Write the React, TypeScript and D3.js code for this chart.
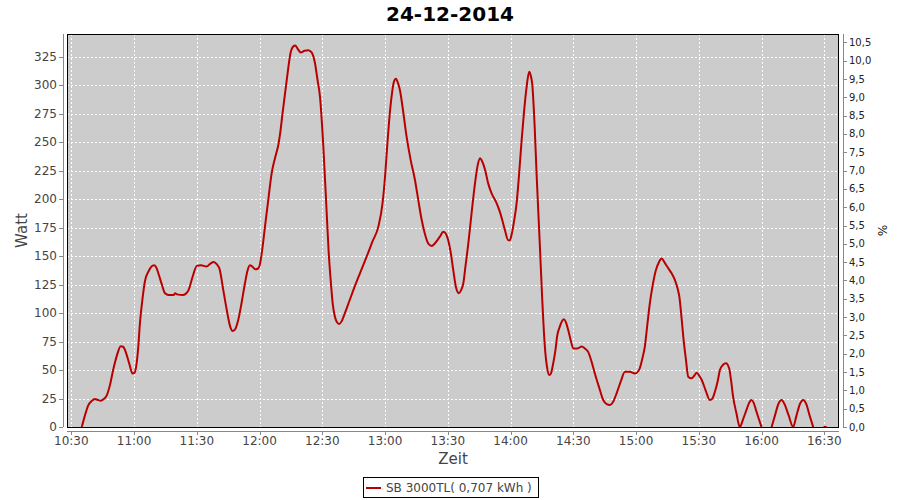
import React from "react";
import * as d3 from "d3";

// ---- data (minutes after 10:30, watts; null = no data) ----
const START_TIME = "10:30";
const offsetMin: number[] = [
  5, 6.5, 8.1, 9.8, 11.3, 12.5, 14, 15.5, 17, 18.5, 20, 22, 23.6, 24.8, 26, 27.8, 29.3, 30.2, 31, 32,
  32.8, 34, 35.2, 37, 39.5, 40.5, 41.8, 43.3, 44.8, 46.5, 49, 49.6, 50.5, 53.5, 55, 56, 58, 60, 62, 64.7,
  66.5, 68.2, 69.5, 71, 72.5, 74.3, 76, 77.1, 78.2, 79.8, 81.5, 83, 84.2, 85.4, 86.5, 88.1, 89.1, 89.9, 91, 92.6,
  94.2, 95.8, 97.5, 99, 100, 101, 103, 105, 106, 107, 108.3, 109.7, 111.5, 113.3, 114.9, 116.5, 117.7, 118.9, 120.5, 122.1,
  123, 124, 125, 126, 127, 128.1, 129.3, 130.8, 132.8, 134.8, 138, 141.2, 144, 146.8, 148.8, 150, 151, 152, 153.1, 154.2,
  155.2, 156.2, 157.1, 158.6, 160.3, 162.3, 164.3, 166, 167.5, 169, 170.7, 172.3, 173.7, 175, 176.5, 177.8, 179, 180.2, 181.5, 182.6,
  184, 185.3, 186.3, 187.4, 188.5, 189.8, 191.5, 193, 194.3, 195.4, 196.5, 197.8, 199.3, 201, 203, 204.9, 206, 207.3, 208.9, 209.7,
  210.5, 211.6, 212.9, 214, 215.3, 216.5, 217.7, 218.9, 219.6, 220.4, 221.5, 222.5, 224, 225.2, 226.4, 227.5, 228.5, 229.3, 230.4, 231.5,
  232.3, 233.5, 235.5, 236.5, 237.6, 238.8, 240, 242, 244, 245.5, 247.1, 248.8, 250.3, 252.3, 254.3, 256, 257.5, 259, 260.7, 262.7,
  264.7, 267, 269.5, 271, 271.8, 273, 274.2, 275.4, 276.6, 278, 279.5, 281, 282.2, 283.8, 285.4, 287, 288.6, 289.8, 290.7, 291.7,
  292.6, 293.8, 295, 296.6, 297.8, 299, 300.2, 301.4, 303.3, 305.3, 306.5, 307.7, 309, 310.1, 311.5, 313, 314.5, 315.5, 316.4, 318,
  319.6, 321.2, 322.8, 324, 325.2, 326.3, 327.3, 328.7, 330,
  332,
  334.8, 336.4, 338, 339.6, 341, 343, 345.1, 346.7, 348.3, 350, 351.4, 353, 354.7,
  357,
  359.6, 361.2,
];
const watts: (number | null)[] = [
  0, 10, 19, 23, 24.6, 24, 23, 24.5, 28, 37, 50, 64, 71, 70.5, 66, 55, 47, 47.5, 53, 70,
  91, 112, 128, 137, 142, 140.5, 134, 125, 117.5, 116, 116, 117.5, 116.5, 116, 117.5, 120, 132, 141.5, 142, 141,
  143.5, 145, 143, 138, 122, 103, 88, 84.4, 85.5, 94, 110, 126, 137, 142, 141, 138.5, 139, 141, 152, 176,
  200, 223, 237, 248, 260, 275.7, 305, 330, 334, 335, 332, 329, 330.5, 331, 329, 319.5, 305, 290, 246, 188,
  155, 129, 108, 97, 92, 90.5, 93, 100, 110, 120, 135, 149.6, 163, 176, 196.6, 220, 246, 270, 290, 303,
  306, 302, 296, 278, 255, 234, 217, 198, 182, 170, 161, 159, 161, 164, 168, 171.6, 170, 164, 152, 138,
  122, 117.5, 120, 126, 142, 161, 190, 214, 230, 236, 233, 226, 214, 205, 198, 189, 182, 173, 164, 164,
  169, 180, 196.6, 220, 252, 278, 299, 312, 309, 300.5, 265, 220, 160, 110, 70.6, 52, 45.7, 47, 56, 68,
  80, 88, 94.6, 92, 85, 76, 69, 69, 70.6, 69, 66, 57, 47, 35, 23.7, 20, 19.3, 22, 29.6, 40,
  48.6, 48.5, 47, 49, 51.6, 60, 70.6, 90, 108.7, 125, 138, 145, 148, 144, 139.5, 135, 129, 122, 114.5, 97,
  79, 60, 44, 42.8, 45, 47.7, 45, 41.3, 32, 23.7, 25, 31, 40, 50, 54.5, 56, 51.6, 40, 26.6, 12,
  0, 7, 15, 21, 23.7, 21, 15, 7, 0,
  null,
  0, 10, 20, 23.7, 20, 10, 0, 10, 20, 23.7, 20, 10, 0,
  null,
  0, 0,
];

const xTickLabels = ["10:30", "11:00", "11:30", "12:00", "12:30", "13:00", "13:30", "14:00", "14:30", "15:00", "15:30", "16:00", "16:30"];
const leftTicks = [0, 25, 50, 75, 100, 125, 150, 175, 200, 225, 250, 275, 300, 325];
const rightTicks = [0, 0.5, 1, 1.5, 2, 2.5, 3, 3.5, 4, 4.5, 5, 5.5, 6, 6.5, 7, 7.5, 8, 8.5, 9, 9.5, 10, 10.5];

const TITLE = "24-12-2014";
const LEGEND = "SB 3000TL( 0,707 kWh )";

const W = 900, H = 500;
const PL = 67, PR = 839, PT = 34, PB = 427;
const FONT = "'DejaVu Sans', sans-serif";
const RED = "#b80000";

function toMin(s: string) {
  const [h, m] = s.split(":").map(Number);
  return h * 60 + m;
}

export default function App() {
  const start = toMin(START_TIME);
  const x = d3.scaleLinear().domain([start - 2.06, start + 367.03]).range([PL, PR]);
  const yL = d3.scaleLinear().domain([0, 345.2]).range([PB, PT]);
  const yR = d3.scaleLinear().domain([0, 10.73]).range([PB, PT]);

  const pts = offsetMin.map((t, i) => ({ t: start + t, w: watts[i] }));
  const line = d3
    .line<{ t: number; w: number | null }>()
    .defined((d) => d.w != null)
    .x((d) => x(d.t))
    .y((d) => yL(d.w as number))
    .curve(d3.curveMonotoneX);

  const fmtR = (v: number) => v.toFixed(1).replace(".", ",");

  return (
    <svg width={W} height={H} style={{ position: "absolute", left: 0, top: 0, background: "#fff" }} fontFamily={FONT}>
      <defs>
        <clipPath id="plotclip">
          <rect x={PL} y={PT} width={PR - PL} height={PB - PT} />
        </clipPath>
      </defs>
      <text x={450} y={21} textAnchor="middle" fontSize={20} fontWeight="bold" fill="#000">{TITLE}</text>

      <rect x={PL} y={PT} width={PR - PL} height={PB - PT} fill="#cccccc" />
      {/* grid */}
      {xTickLabels.map((l) => (
        <line key={"gx" + l} x1={Math.round(x(toMin(l))) + 0.5} x2={Math.round(x(toMin(l))) + 0.5} y1={PT} y2={PB}
          stroke="#fff" strokeWidth={1} strokeDasharray="2,2" />
      ))}
      {leftTicks.map((v) => (
        <line key={"gy" + v} x1={PL} x2={PR} y1={Math.round(yL(v)) + 0.5} y2={Math.round(yL(v)) + 0.5}
          stroke="#fff" strokeWidth={1} strokeDasharray="2,2" />
      ))}

      <path d={line(pts) || ""} fill="none" stroke={RED} strokeWidth={2} clipPath="url(#plotclip)" strokeLinejoin="round" />
      <rect x={PL + 0.5} y={PT + 0.5} width={PR - PL - 1} height={PB - PT} fill="none" stroke="#000" strokeWidth={1} />

      {/* left axis */}
      <line x1={63.5} x2={63.5} y1={PT} y2={PB} stroke="#888" />
      {leftTicks.map((v) => (
        <g key={"ly" + v}>
          <line x1={59} x2={63} y1={Math.round(yL(v)) + 0.5} y2={Math.round(yL(v)) + 0.5} stroke="#888" />
          <text x={57} y={yL(v) + 4} textAnchor="end" fontSize={12} fill="#444">{v}</text>
        </g>
      ))}
      <text transform={`translate(27,${(PT + PB) / 2}) rotate(-90)`} textAnchor="middle" fontSize={15} fill="#444">Watt</text>

      {/* bottom axis */}
      <line x1={PL} x2={PR} y1={431.5} y2={431.5} stroke="#888" />
      {xTickLabels.map((l) => (
        <g key={"xt" + l}>
          <line x1={Math.round(x(toMin(l))) + 0.5} x2={Math.round(x(toMin(l))) + 0.5} y1={431} y2={435} stroke="#888" />
          <text x={x(toMin(l))} y={445} textAnchor="middle" fontSize={12} fill="#444">{l}</text>
        </g>
      ))}
      <text x={(PL + PR) / 2} y={464} textAnchor="middle" fontSize={15} fill="#444">Zeit</text>

      {/* right axis */}
      <line x1={843.5} x2={843.5} y1={PT} y2={PB} stroke="#888" />
      {rightTicks.map((v) => (
        <g key={"ry" + v}>
          <line x1={843} x2={847} y1={Math.round(yR(v)) + 0.5} y2={Math.round(yR(v)) + 0.5} stroke="#888" />
          <text x={849} y={yR(v) + 3.5} fontSize={10} fill="#222">{fmtR(v)}</text>
        </g>
      ))}
      <text transform={`translate(878,${(PT + PB) / 2}) rotate(90)`} textAnchor="middle" fontSize={12} fill="#222">%</text>

      {/* legend */}
      <rect x={363.5} y={477.5} width={175} height={20} fill="#fff" stroke="#000" />
      <line x1={366} x2={381} y1={488} y2={488} stroke={RED} strokeWidth={2} />
      <text x={386} y={492} fontSize={12} fill="#444">{LEGEND}</text>
    </svg>
  );
}
